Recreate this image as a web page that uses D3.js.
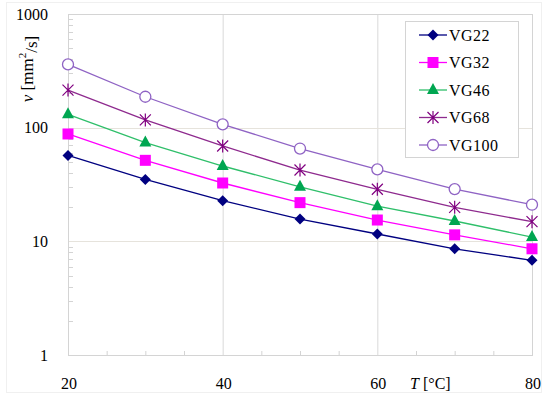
<!DOCTYPE html>
<html>
<head>
<meta charset="utf-8">
<script src="https://cdn.jsdelivr.net/npm/d3@7"></script>
<style>
  body { margin: 0; background: #fff; }
</style>
</head>
<body>
<div id="canvas"></div>
<script>
"use strict"

/* Data */
let temps = [20, 30, 40, 50, 60, 70, 80];
let vg22 = [57, 35, 22.8, 15.7, 11.6, 8.6, 6.8];
let vg32 = [88, 51.6, 32.6, 21.9, 15.4, 11.4, 8.6];
let vg46 = [131, 74, 46, 30.2, 20.4, 15.1, 10.9];
let vg68 = [214, 117, 69, 42.4, 28.7, 19.9, 14.9];
let vg100 = [360, 187, 107, 65.5, 43, 28.8, 21];
let seriesNames = ["VG22", "VG32", "VG46", "VG68", "VG100"];
let xTicks = [20, 40, 60, 80];
let yTicks = [1, 10, 100, 1000];

/* Drawing configuration */
let svgWidth = 543;
let svgHeight = 394;
let plot = { left: 68, right: 532, top: 14, bottom: 355 };
let serif = "'Liberation Serif', 'DejaVu Serif', 'Times New Roman', serif";

let styles = [
    { color: "#000080", shape: "diamond" },
    { color: "#ff00ff", shape: "square" },
    { color: "#00a651", line: "#2fbf6a", shape: "triangle" },
    { color: "#800080", line: "#8e2a8e", shape: "star" },
    { color: "#8f63c4", shape: "circle" }
];

let svg = d3.select("#canvas")
    .append("svg")
    .attr("width", svgWidth)
    .attr("height", svgHeight)
    .attr("font-family", serif);

/* faint outer chart border */
svg.append("rect")
    .attr("x", 6.5).attr("y", 2.5)
    .attr("width", svgWidth - 8).attr("height", svgHeight - 4)
    .attr("fill", "none")
    .attr("stroke", "#f0f0f0");

let xScale = d3.scaleLinear()
    .domain([20, 80])
    .range([plot.left, plot.right]);

let yScale = d3.scaleLog()
    .domain([1, 1000])
    .range([plot.bottom, plot.top]);

/* gridlines */
svg.append("g")
    .selectAll("line")
    .data([40, 60])
    .join("line")
    .attr("x1", d => xScale(d) + 0.5).attr("x2", d => xScale(d) + 0.5)
    .attr("y1", plot.top).attr("y2", plot.bottom)
    .attr("stroke", "#d9d9d9");

svg.append("g")
    .selectAll("line")
    .data([10, 100])
    .join("line")
    .attr("x1", plot.left).attr("x2", plot.right)
    .attr("y1", d => Math.round(yScale(d)) + 0.5).attr("y2", d => Math.round(yScale(d)) + 0.5)
    .attr("stroke", "#e6e3dc");

/* plot border */
svg.append("rect")
    .attr("x", plot.left + 0.5).attr("y", plot.top + 0.5)
    .attr("width", plot.right - plot.left).attr("height", plot.bottom - plot.top)
    .attr("fill", "none")
    .attr("stroke", "#d4d4d4");

/* minor ticks, bottom axis (every 5) */
let xMinor = d3.range(25, 80, 5).filter(d => d % 20 != 0);
svg.append("g")
    .selectAll("line")
    .data(xMinor)
    .join("line")
    .attr("x1", d => xScale(d) + 0.5).attr("x2", d => xScale(d) + 0.5)
    .attr("y1", plot.bottom).attr("y2", plot.bottom - 4)
    .attr("stroke", "#d4d4d4");

/* minor ticks, left axis (log) */
let yMinor = [];
[1, 10, 100].forEach(function (dec) {
    for (let k = 2; k < 10; k++) yMinor.push(dec * k);
});
svg.append("g")
    .selectAll("line")
    .data(yMinor)
    .join("line")
    .attr("x1", plot.left).attr("x2", plot.left + 5)
    .attr("y1", d => Math.round(yScale(d)) + 0.5).attr("y2", d => Math.round(yScale(d)) + 0.5)
    .attr("stroke", "#d4d4d4");

/* tick labels */
svg.append("g")
    .selectAll("text")
    .data(yTicks)
    .join("text")
    .attr("x", 48)
    .attr("y", d => yScale(d))
    .attr("dy", "0.35em")
    .attr("text-anchor", "end")
    .attr("font-size", 16)
    .text(d => d);

svg.append("g")
    .selectAll("text")
    .data(xTicks)
    .join("text")
    .attr("x", d => xScale(d) + 1)
    .attr("y", 383)
    .attr("dy", "0.35em")
    .attr("text-anchor", "middle")
    .attr("font-size", 16)
    .text(d => d);

/* axis titles */
let xTitle = svg.append("text")
    .attr("x", 410)
    .attr("y", 383)
    .attr("dy", "0.35em")
    .attr("font-size", 16);
xTitle.append("tspan").attr("font-style", "italic").text("T");
xTitle.append("tspan").text(" [°C]");

let yTitle = svg.append("text")
    .attr("transform", "translate(27,69) rotate(-90)")
    .attr("text-anchor", "middle")
    .attr("dy", "0.35em")
    .attr("font-size", 17);
yTitle.append("tspan").attr("font-style", "italic").text("ν");
yTitle.append("tspan").text(" [mm");
yTitle.append("tspan").attr("font-size", 11).attr("dy", "-0.6em").text("2");
yTitle.append("tspan").attr("dy", "0.6em").text("/s]");

/* markers */
function drawMarker(g, shape, color, x, y) {
    if (shape == "diamond") {
        let r = 5.5;
        g.append("path")
            .attr("d", "M" + x + "," + (y - r) + "L" + (x + r) + "," + y + "L" + x + "," + (y + r) + "L" + (x - r) + "," + y + "Z")
            .attr("fill", color);
    } else if (shape == "square") {
        g.append("rect")
            .attr("x", x - 5.5).attr("y", y - 5.5)
            .attr("width", 11).attr("height", 11)
            .attr("fill", color);
    } else if (shape == "triangle") {
        g.append("path")
            .attr("d", "M" + x + "," + (y - 7) + "L" + (x + 6) + "," + (y + 4) + "L" + (x - 6) + "," + (y + 4) + "Z")
            .attr("fill", color);
    } else if (shape == "star") {
        let r = 5.5;
        g.append("path")
            .attr("d", "M" + (x - r) + "," + (y - r) + "L" + (x + r) + "," + (y + r) +
                "M" + (x + r) + "," + (y - r) + "L" + (x - r) + "," + (y + r) +
                "M" + x + "," + (y - r - 1) + "L" + x + "," + (y + r + 1))
            .attr("stroke", color)
            .attr("stroke-width", 1.2)
            .attr("fill", "none");
    } else {
        g.append("circle")
            .attr("cx", x).attr("cy", y).attr("r", 5.5)
            .attr("fill", "#fff")
            .attr("stroke", color)
            .attr("stroke-width", 1.3);
    }
}

let allSeries = [vg22, vg32, vg46, vg68, vg100];
let line = d3.line()
    .x((d, i) => xScale(temps[i]))
    .y(d => yScale(d));

allSeries.forEach(function (values, s) {
    let st = styles[s];
    let g = svg.append("g");
    g.append("path")
        .attr("d", line(values))
        .attr("fill", "none")
        .attr("stroke", st.line || st.color)
        .attr("stroke-width", 1.3);
    values.forEach(function (v, i) {
        drawMarker(g, st.shape, st.color, xScale(temps[i]), yScale(v));
    });
});

/* legend */
let legend = svg.append("g");
legend.append("rect")
    .attr("x", 405.5).attr("y", 21.5)
    .attr("width", 113).attr("height", 136)
    .attr("fill", "#fff")
    .attr("stroke", "#d4d4d4");

seriesNames.forEach(function (name, s) {
    let st = styles[s];
    let y = 35 + s * 27.5;
    legend.append("line")
        .attr("x1", 419).attr("x2", 447)
        .attr("y1", y).attr("y2", y)
        .attr("stroke", st.line || st.color)
        .attr("stroke-width", 1.3);
    drawMarker(legend, st.shape, st.color, 433, y);
    legend.append("text")
        .attr("x", 449)
        .attr("y", y)
        .attr("dy", "0.35em")
        .attr("font-size", 16)
        .attr("letter-spacing", 0.5)
        .text(name);
});
</script>
</body>
</html>
